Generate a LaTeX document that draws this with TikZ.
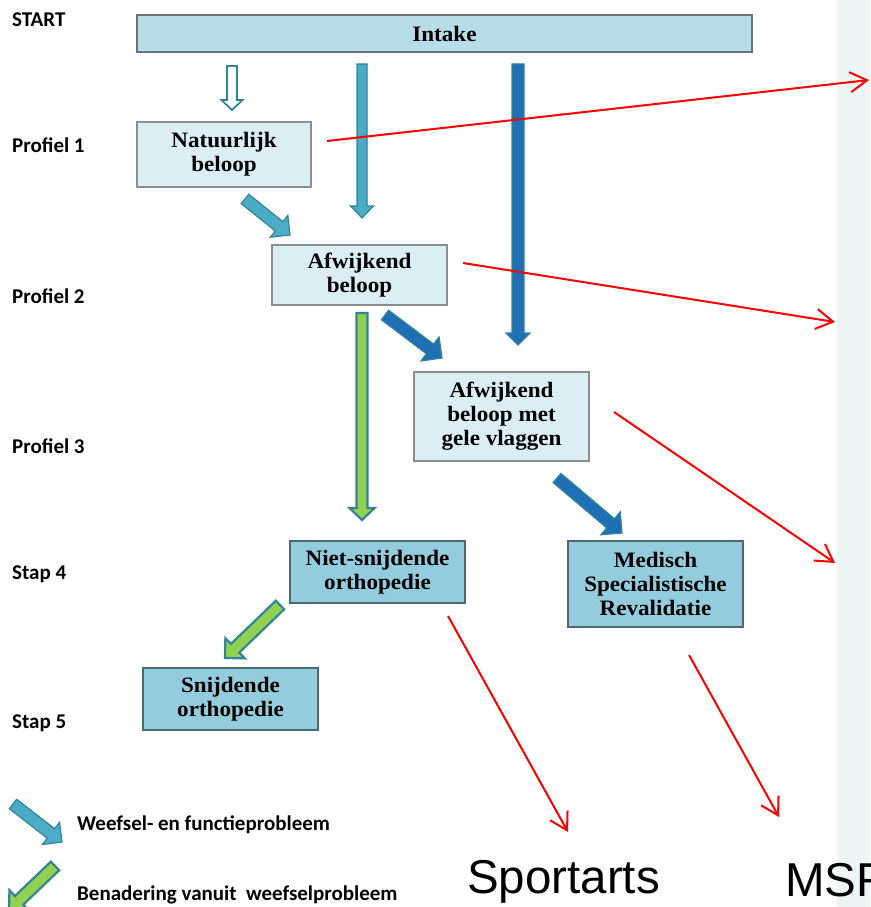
\documentclass[tikz,border=0pt]{standalone}
\usepackage{fontspec}
\setmainfont{Liberation Serif}
\newfontfamily\boxfont{Liberation Serif}[FakeStretch=1.05]
\newfontfamily\calfont{Carlito}
\newfontfamily\arialfont{Liberation Sans}
\usetikzlibrary{calc,arrows.meta}
\definecolor{panelc}{HTML}{EEF6F5}
\definecolor{lightfill}{HTML}{DAEEF3}
\definecolor{intakefill}{HTML}{B7DDE8}
\definecolor{darkfill}{HTML}{93CDDD}
\definecolor{boxgray}{HTML}{8A8F91}
\definecolor{darkborder}{HTML}{4E6872}
\definecolor{tealfill}{HTML}{4BACC6}
\definecolor{tealline}{HTML}{31849B}
\definecolor{bluefill}{HTML}{1F6FB4}
\definecolor{greenfill}{HTML}{92D050}
\newcommand\blockarrow[6]{%
  \coordinate (bah) at ($(#3)!#6!(#2)$);
  \filldraw[#1] ($(#2)!#4!90:(#3)$) -- ($(bah)!#4!90:(#3)$) -- ($(bah)!#5!90:(#3)$) -- (#3)
    -- ($(bah)!#5!-90:(#3)$) -- ($(bah)!#4!-90:(#3)$) -- ($(#2)!#4!-90:(#3)$) -- cycle;}
\tikzset{
  lbox/.style={draw=boxgray, line width=1.3pt, fill=lightfill, minimum width=175pt,
    inner sep=0pt, align=center, font=\boxfont\bfseries\fontsize{22}{24}\selectfont},
  dbox/.style={lbox, fill=darkfill, draw=darkborder},
  sidelabel/.style={anchor=base west, inner sep=0pt, font=\calfont\bfseries\fontsize{21}{24}\selectfont},
  legendtext/.style={anchor=base west, inner sep=0pt, font=\calfont\bfseries\fontsize{21}{24}\selectfont},
  bigtext/.style={anchor=base west, inner sep=0pt, font=\arialfont\fontsize{47.5}{52}\selectfont},
  tealarr/.style={fill=tealfill, draw=tealline, line width=1.2pt, line join=miter},
  hollowarr/.style={fill=white, draw=tealline, line width=1.8pt, line join=miter},
  bluearr/.style={fill=bluefill, draw=tealline, line width=1.2pt, line join=miter},
  greenarr/.style={fill=greenfill, draw=tealline, line width=2.2pt, line join=miter},
  redarr/.style={draw=red, line width=2pt, -{Straight Barb[length=17pt,width=20pt]}}
}
\begin{document}
\begin{tikzpicture}[x=1pt,y=-1pt]
\useasboundingbox (0,0) rectangle (870,907);
\fill[panelc] (837,0) rectangle (870,907);

% side labels
\node[sidelabel] (lstart) at (12,27) {START};
\node[sidelabel] (lp1) at (12,152) {Profiel 1};
\node[sidelabel] (lp2) at (12,303) {Profiel 2};
\node[sidelabel] (lp3) at (12,453) {Profiel 3};
\node[sidelabel] (ls4) at (12,579) {Stap 4};
\node[sidelabel] (ls5) at (12,728) {Stap 5};

% boxes
\node[lbox, fill=intakefill, draw=boxgray!80!black, minimum width=615pt, minimum height=37pt] (intake) at (444.5,33.5) {Intake};
\node[lbox, minimum width=174pt, minimum height=65pt] (nat) at (224,154.5) {Natuurlijk\\beloop};
\node[lbox, minimum height=60pt] (afw) at (359.5,275) {Afwijkend\\beloop};
\node[lbox, minimum height=89pt] (gele) at (501.5,416.5) {Afwijkend\\beloop met\\gele vlaggen};
\node[dbox, minimum height=62pt] (niet) at (377.5,572) {Niet-snijdende\\orthopedie};
\node[dbox, minimum height=86pt] (msr) at (655.5,584) {Medisch\\Specialistische\\Revalidatie};
\node[dbox, minimum height=62pt] (snij) at (230.5,699) {Snijdende\\orthopedie};

% block arrow end points
\coordinate (h1s) at (232,66);  \coordinate (h1e) at (232,110);
\coordinate (t1s) at (362,64);  \coordinate (t1e) at (362,218);
\coordinate (b1s) at (518,64);  \coordinate (b1e) at (518,345);
\coordinate (t2s) at (245,199); \coordinate (t2e) at (290,235);
\coordinate (b2s) at (385,315); \coordinate (b2e) at (442,358);
\coordinate (g1s) at (362,313); \coordinate (g1e) at (362,520);
\coordinate (b3s) at (557,478); \coordinate (b3e) at (622,533);
\coordinate (g2s) at (280,605); \coordinate (g2e) at (225,658);
\coordinate (lts) at (13,804);  \coordinate (lte) at (62,842);
\coordinate (lgs) at (55,866);  \coordinate (lge) at (9,910);

\blockarrow{hollowarr}{h1s}{h1e}{5pt}{10.5pt}{10pt}
\blockarrow{tealarr}{t1s}{t1e}{5pt}{11.5pt}{12pt}
\blockarrow{bluearr}{b1s}{b1e}{6pt}{12pt}{12pt}
\blockarrow{tealarr}{t2s}{t2e}{6pt}{14pt}{14pt}
\blockarrow{bluearr}{b2s}{b2e}{6pt}{15pt}{15pt}
\blockarrow{greenarr}{g1s}{g1e}{5.5pt}{12.5pt}{12pt}
\blockarrow{bluearr}{b3s}{b3e}{6pt}{15pt}{15pt}
\blockarrow{greenarr}{g2s}{g2e}{6pt}{14pt}{14pt}
\blockarrow{tealarr}{lts}{lte}{6pt}{14pt}{14pt}
\blockarrow{greenarr}{lgs}{lge}{6pt}{14pt}{14pt}

% red arrows
\coordinate (r1s) at (327,141); \coordinate (r1e) at (869,80);
\coordinate (r2s) at (463,263); \coordinate (r2e) at (835,322);
\coordinate (r3s) at (614,412); \coordinate (r3e) at (835,563);
\coordinate (r4s) at (448,616); \coordinate (r4e) at (568,832);
\coordinate (r5s) at (689,655); \coordinate (r5e) at (779,817);
\draw[redarr] (r1s) -- (r1e);
\draw[redarr] (r2s) -- (r2e);
\draw[redarr] (r3s) -- (r3e);
\draw[redarr] (r4s) -- (r4e);
\draw[redarr] (r5s) -- (r5e);

% legend
\node[legendtext] (leg1) at (77,830) {Weefsel- en functieprobleem};
\node[legendtext] (leg2) at (77,900) {Benadering vanuit\ \ weefselprobleem};

% destinations
\node[bigtext] (sport) at (467,893) {Sportarts};
\node[bigtext] (msrtxt) at (785,896) {MSR};
\end{tikzpicture}
\end{document}
